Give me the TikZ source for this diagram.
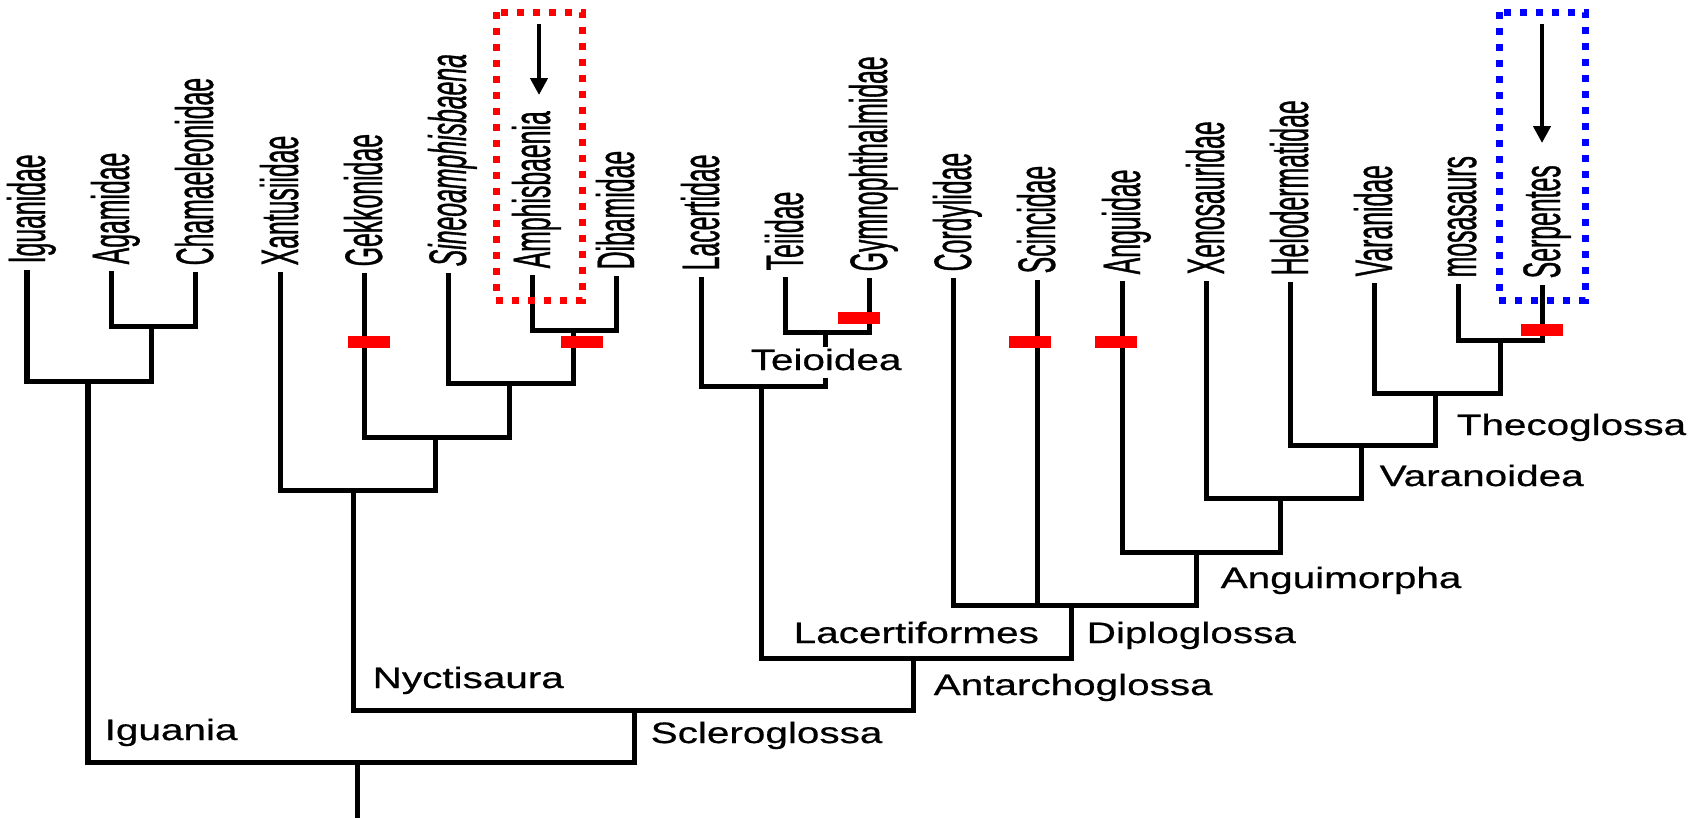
\documentclass[tikz,border=0pt]{standalone}
\usepackage{fontspec}
\usepackage{tikz}
\usetikzlibrary{
  arrows.meta,
  calc,
  positioning
}
\newfontfamily\taxonfont[FakeStretch=0.47, FakeBold=0.6,
  ItalicFont={Liberation Sans Italic},
  ItalicFeatures={FakeStretch=0.47, FakeBold=0.6}]{Liberation Sans}
\newfontfamily\cladefont[FakeStretch=1.37, FakeBold=0.6]{Liberation Sans}
\definecolor{phRed}{HTML}{FF0000}
\definecolor{phBlue}{HTML}{0000FF}
\tikzset{
  branch/.style={line width=0.5mm, line cap=rect, black},
  taxon/.style={rotate=90, anchor=base west, inner sep=0pt,
    font=\taxonfont\fontsize{15}{17}\selectfont},
  clade/.style={anchor=base west, inner sep=0pt,
    font=\cladefont\fontsize{8.4}{10}\selectfont},
  synbar/.style={fill=phRed, draw=none, minimum width=0.42cm,
    minimum height=0.12cm, inner sep=0pt},
  focusbox/.style={line width=0.07cm, dash pattern=on 0.07cm off 0.09cm},
  pointer/.style={-{Triangle[length=0.17cm, width=0.17cm]}, line width=0.45mm, black}
}

\begin{document}
\begin{tikzpicture}[x=0.01cm, y=-0.01cm]
  \useasboundingbox (0,0) rectangle (1706,817);

  % leaf tips
  \coordinate (t1) at (27,272);
  \coordinate (t2) at (111,273);
  \coordinate (t3) at (195,274);
  \coordinate (t4) at (280,274);
  \coordinate (t5) at (364,275);
  \coordinate (t6) at (448,275);
  \coordinate (t7) at (532,277);
  \coordinate (t8) at (616,278);
  \coordinate (t9) at (701,279);
  \coordinate (t10) at (785,279);
  \coordinate (t11) at (869,280);
  \coordinate (t12) at (953,280);
  \coordinate (t13) at (1037,282);
  \coordinate (t14) at (1122,283);
  \coordinate (t15) at (1206,283);
  \coordinate (t16) at (1290,284);
  \coordinate (t17) at (1374,285);
  \coordinate (t18) at (1458,286);
  \coordinate (t19) at (1542,287);

  % internal nodes
  \coordinate (n1) at (151,326);
  \coordinate (n2) at (88,381);
  \coordinate (n3) at (573,330);
  \coordinate (n4) at (509,383);
  \coordinate (n5) at (435,437);
  \coordinate (n6) at (353,490);
  \coordinate (n7) at (825,332);
  \coordinate (n8) at (761,386);
  \coordinate (n9) at (1500,340);
  \coordinate (n10) at (1435,393);
  \coordinate (n11) at (1361,445);
  \coordinate (n12) at (1280,498);
  \coordinate (n13) at (1196,552);
  \coordinate (n14) at (1071,605);
  \coordinate (n15) at (913,658);
  \coordinate (n16) at (634,710);
  \coordinate (root) at (357,762);
  \coordinate (base) at (357,817);

  % branches
  \draw[branch] (t2) |- (n1) -| (t3);
  \draw[branch] (t1) |- (n2) -| (n1);
  \draw[branch] (t7) |- (n3) -| (t8);
  \draw[branch] (t6) |- (n4) -| (n3);
  \draw[branch] (t5) |- (n5) -| (n4);
  \draw[branch] (t4) |- (n6) -| (n5);
  \draw[branch] (t10) |- (n7) -| (t11);
  \draw[branch] (t9) |- (n8) -| (n7);
  \draw[branch] (t18) |- (n9) -| (t19);
  \draw[branch] (t17) |- (n10) -| (n9);
  \draw[branch] (t16) |- (n11) -| (n10);
  \draw[branch] (t15) |- (n12) -| (n11);
  \draw[branch] (t14) |- (n13) -| (n12);
  \draw[branch] (t12) |- (n14) -| (n13);
  \draw[branch] (t13) -- (t13 |- n14);
  \draw[branch] (n8) |- (n15) -| (n14);
  \draw[branch] (n6) |- (n16) -| (n15);
  \draw[branch] (n2) |- (root) -| (n16);
  \draw[branch] (root) -- (base);

  % taxa
  \node[taxon] (igu) at ($(t1)+(18,-8)$) {Iguanidae};
  \node[taxon] (aga) at ($(t2)+(18,-8)$) {Agamidae};
  \node[taxon] (cha) at ($(t3)+(18,-8)$) {Chamaeleonidae};
  \node[taxon] (xan) at ($(t4)+(18,-8)$) {Xantusiidae};
  \node[taxon] (gek) at ($(t5)+(18,-8)$) {Gekkonidae};
  \node[taxon] (sin) at ($(t6)+(18,-8)$) {\itshape Sineoamphisbaena};
  \node[taxon] (amp) at ($(t7)+(18,-8)$) {Amphisbaenia};
  \node[taxon] (dib) at ($(t8)+(18,-8)$) {Dibamidae};
  \node[taxon] (lac) at ($(t9)+(18,-8)$) {Lacertidae};
  \node[taxon] (tei) at ($(t10)+(18,-8)$) {Teiidae};
  \node[taxon] (gym) at ($(t11)+(18,-8)$) {Gymnophthalmidae};
  \node[taxon] (cor) at ($(t12)+(18,-8)$) {Cordylidae};
  \node[taxon] (sci) at ($(t13)+(18,-8)$) {Scincidae};
  \node[taxon] (ang) at ($(t14)+(18,-8)$) {Anguidae};
  \node[taxon] (xen) at ($(t15)+(18,-8)$) {Xenosauridae};
  \node[taxon] (hel) at ($(t16)+(18,-8)$) {Helodermatidae};
  \node[taxon] (var) at ($(t17)+(18,-8)$) {Varanidae};
  \node[taxon] (mos) at ($(t18)+(18,-8)$) {mosasaurs};
  \node[taxon] (ser) at ($(t19)+(18,-8)$) {Serpentes};

  % clade names
  \node[clade, fill=white, inner ysep=0.02cm, text depth=0.06cm] (teio) at (750,370) {Teioidea};
  \node[clade] (lacf) at (793,643) {Lacertiformes};
  \node[clade] (nyct) at (372,688) {Nyctisaura};
  \node[clade] (igua) at (104,740) {Iguania};
  \node[clade] (scle) at (650,743) {Scleroglossa};
  \node[clade] (anta) at (933,695) {Antarchoglossa};
  \node[clade] (dipl) at (1086,643) {Diploglossa};
  \node[clade] (angm) at (1220,588) {Anguimorpha};
  \node[clade] (vara) at (1379,486) {Varanoidea};
  \node[clade] (thec) at (1456,435) {Thecoglossa};

  % limb loss bars
  \node[synbar] (b1) at (369,342) {};
  \node[synbar] (b2) at (582,342) {};
  \node[synbar] (b3) at (859,318) {};
  \node[synbar] (b4) at (1030,342) {};
  \node[synbar] (b5) at (1116,342) {};
  \node[synbar] (b6) at (1542,330) {};

  % highlighted taxa
  \draw[focusbox, draw=phRed] (496,12) rectangle (582,300);
  \draw[focusbox, draw=phBlue] (1499,12) rectangle (1585,300);
  \coordinate (amptail) at (539,24);
  \coordinate (amphead) at (539,95);
  \coordinate (sertail) at (1542,24);
  \coordinate (serhead) at (1542,143);
  \draw[pointer] (amptail) -- (amphead);
  \draw[pointer] (sertail) -- (serhead);
\end{tikzpicture}
\end{document}
